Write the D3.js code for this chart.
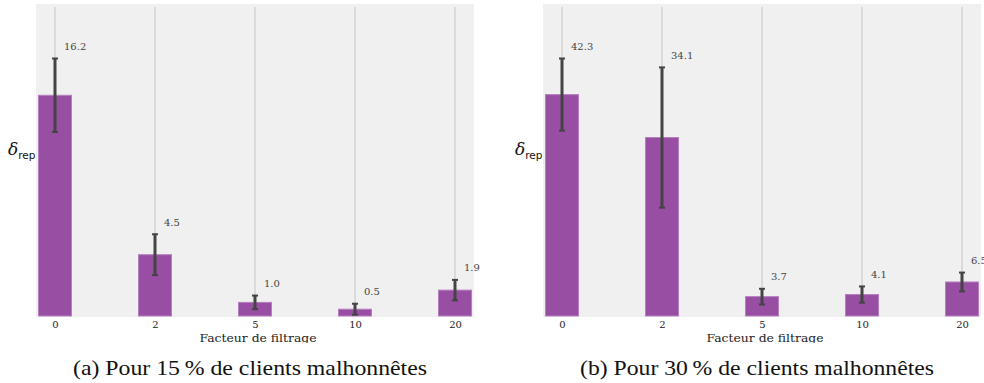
<!DOCTYPE html>
<html lang="fr">
<head>
<meta charset="utf-8">
<title>Facteur de filtrage</title>
<script src="https://cdn.jsdelivr.net/npm/d3@7"></script>
<style>
  body { margin: 0; background: #fff; }
</style>
</head>
<body>
<script>
// data
var categories = ["0", "2", "5", "10", "20"];
var valuesA = [16.2, 4.5, 1.0, 0.5, 1.9];
var errorsA = [2.7, 1.5, 0.5, 0.4, 0.75];
var valuesB = [42.3, 34.1, 3.7, 4.1, 6.5];
var errorsB = [6.9, 13.4, 1.5, 1.55, 1.8];
var captions = ["(a) Pour 15\u2009% de clients malhonnêtes", "(b) Pour 30\u2009% de clients malhonnêtes"];

var W = 984, H = 383;
var pw = 438, ph = 313;   // panel background size
var baseY = 312, topY = 3; // inside panel
var serif = "'DejaVu Serif', serif";

var svg = d3.select("body").append("svg")
  .attr("width", W)
  .attr("height", H);

svg.append("defs").append("clipPath")
  .attr("id", "clip")
  .append("rect")
  .attr("x", -60).attr("y", -10)
  .attr("width", 600).attr("height", 349);

function drawPanel(x0, values, errors, caption) {
  var g = svg.append("g").attr("transform", "translate(" + x0 + ",4)");
  var inner = g.append("g").attr("clip-path", "url(#clip)");

  var x = d3.scalePoint()
    .domain(categories)
    .range([19, 419]);
  var barW = 33;

  var yMax = d3.max(values, function (d, i) { return d + errors[i]; }) * 1.2;
  var y = d3.scaleLinear()
    .domain([0, yMax])
    .range([baseY, topY]);

  inner.append("rect")
    .attr("width", pw)
    .attr("height", ph)
    .attr("fill", "#f0f0f0");

  // vertical grid
  inner.selectAll("line.grid")
    .data(categories)
    .enter().append("line")
    .attr("class", "grid")
    .attr("x1", function (d) { return x(d); })
    .attr("x2", function (d) { return x(d); })
    .attr("y1", topY)
    .attr("y2", baseY)
    .attr("stroke", "#cbcbcb")
    .attr("stroke-width", 1.2);

  // bars
  inner.selectAll("rect.bar")
    .data(values)
    .enter().append("rect")
    .attr("class", "bar")
    .attr("x", function (d, i) { return x(categories[i]) - barW / 2; })
    .attr("y", function (d) { return y(d); })
    .attr("width", barW)
    .attr("height", function (d) { return y(0) - y(d); })
    .attr("fill", "#984ea3")
    .attr("stroke", "#b67fbf")
    .attr("stroke-width", 1);

  // error bars
  var eb = inner.selectAll("g.err")
    .data(values)
    .enter().append("g")
    .attr("class", "err");
  eb.append("line")
    .attr("x1", function (d, i) { return x(categories[i]); })
    .attr("x2", function (d, i) { return x(categories[i]); })
    .attr("y1", function (d, i) { return y(d + errors[i]); })
    .attr("y2", function (d, i) { return y(Math.max(0, d - errors[i])); })
    .attr("stroke", "#444")
    .attr("stroke-width", 3);
  [1, -1].forEach(function (s) {
    eb.append("line")
      .attr("x1", function (d, i) { return x(categories[i]) - 3; })
      .attr("x2", function (d, i) { return x(categories[i]) + 3; })
      .attr("y1", function (d, i) { return y(d + s * errors[i]); })
      .attr("y2", function (d, i) { return y(d + s * errors[i]); })
      .attr("stroke", "#444")
      .attr("stroke-width", 2);
  });

  // value labels
  inner.selectAll("text.value-label")
    .data(values)
    .enter().append("text")
    .attr("class", "value-label")
    .attr("x", function (d, i) { return x(categories[i]) + 9; })
    .attr("y", function (d, i) { return y(d + errors[i]) - 8.5; })
    .style("font-family", serif)
    .attr("font-size", 10)
    .attr("fill", "#444")
    .text(function (d) { return d.toFixed(1); });

  // x tick labels
  var xAxis = d3.axisBottom(x).tickSize(0).tickPadding(0);
  var ax = inner.append("g")
    .attr("transform", "translate(0," + (ph + 4) + ")")
    .call(xAxis);
  ax.select(".domain").remove();
  ax.selectAll("text")
    .style("font-family", serif)
    .attr("font-size", 10)
    .attr("fill", "#222")
    .attr("dy", "0.71em");

  inner.append("text")
    .attr("x", pw / 2 + 3)
    .attr("y", 338)
    .attr("text-anchor", "middle")
    .style("font-family", serif)
    .attr("font-size", 11.5)
    .attr("fill", "#222")
    .attr("textLength", 117)
    .attr("lengthAdjust", "spacingAndGlyphs")
    .text("Facteur de filtrage");

  // y label
  var yl = g.append("text")
    .attr("x", -28)
    .attr("y", 151)
    .attr("fill", "#111");
  yl.append("tspan")
    .style("font-family", serif)
    .attr("font-style", "italic")
    .attr("font-size", 17)
    .text("\u03b4");
  yl.append("tspan")
    .style("font-family", "'DejaVu Sans', sans-serif")
    .attr("font-size", 10.5)
    .attr("dy", 3.5)
    .text("rep");

  // caption
  svg.append("text")
    .attr("x", x0 + pw / 2 - 5)
    .attr("y", 375)
    .attr("text-anchor", "middle")
    .style("font-family", "'Liberation Serif', 'Times New Roman', serif")
    .attr("font-size", 21)
    .attr("fill", "#111")
    .attr("textLength", 354)
    .attr("lengthAdjust", "spacingAndGlyphs")
    .text(caption);
}

drawPanel(36, valuesA, errorsA, captions[0]);
drawPanel(543, valuesB, errorsB, captions[1]);
</script>
</body>
</html>
